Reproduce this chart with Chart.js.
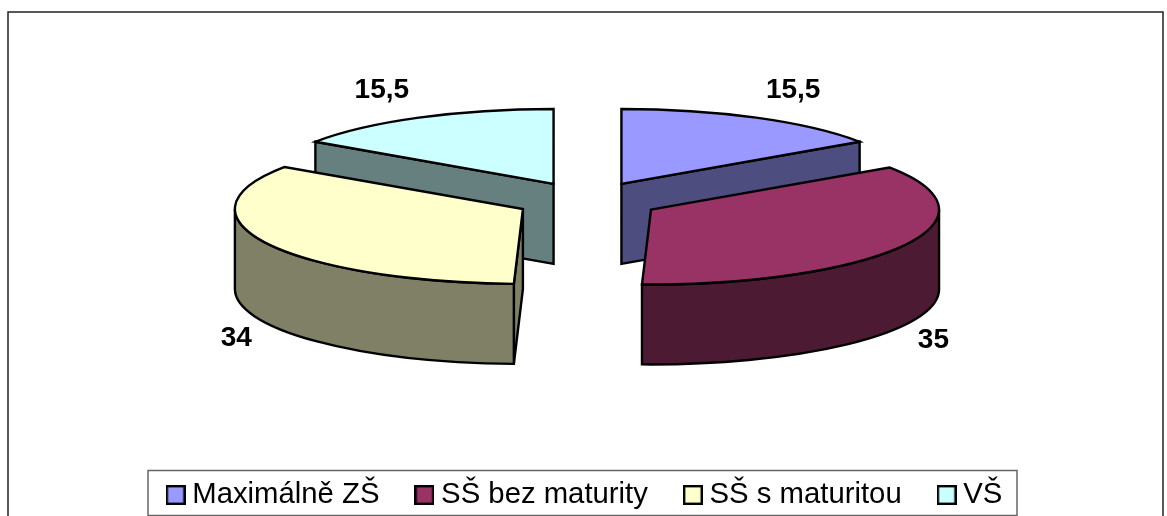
<!DOCTYPE html>
<html>
<head>
<meta charset="utf-8">
<style>html,body{margin:0;padding:0;background:#fff;overflow:hidden}canvas{display:block}</style>
<script src="https://cdn.jsdelivr.net/npm/chart.js@4"></script>
</head>
<body>
<canvas id="c" width="1167" height="516"></canvas>
<script>
const categories = ['Maximálně ZŠ', 'SŠ bez maturity', 'SŠ s maturitou', 'VŠ'];
const shares = [15.5, 35, 34, 15.5];
const topColors = ['#9999FF', '#993366', '#FFFFCC', '#CCFFFF'];
const sideColors = ['#4D4D80', '#4D1A33', '#808066', '#668080'];
const paintOrder = [0, 3, 1, 2];

const TILT = 0.26, DEPTH = 80, EXPLODE = 72.5, RADIUS = 288;
const FONT = '"Liberation Sans", Arial, sans-serif';

function swatch(color) {
  const s = document.createElement('canvas');
  s.width = 20; s.height = 20;
  const x = s.getContext('2d');
  x.fillStyle = color; x.fillRect(0, 0, 20, 20);
  x.strokeStyle = '#000'; x.lineWidth = 2.4; x.strokeRect(1.2, 1.2, 17.6, 17.6);
  return s;
}

const pie3d = {
  id: 'pie3d',
  afterLayout(chart) {
    const l = chart.legend;
    const h = l.bottom - l.top;
    l.top = 437.35; l.bottom = l.top + h;
    l.left += 0.5; l.right += 0.5;
    const area = chart.chartArea;
    area.top = 0; area.bottom = 401; area.height = 401;
  },
  beforeDraw(chart) {
    const c = chart.ctx;
    c.save();
    c.fillStyle = '#fff'; c.fillRect(0, 0, chart.width, chart.height);
    c.strokeStyle = '#222'; c.lineWidth = 1.5;
    c.strokeRect(8, 12, 1155, 520);
    c.strokeStyle = '#666'; c.lineWidth = 1.5;
    c.strokeRect(148, 470.5, 869, 45);
    c.restore();
  },
  beforeDatasetsDraw(chart) {
    const c = chart.ctx;
    const arcs = chart.getDatasetMeta(0).data;
    c.save();
    c.lineWidth = 2.4; c.lineJoin = 'miter'; c.strokeStyle = '#000';
    const shape = (a) => {
      const mid = (a.startAngle + a.endAngle) / 2;
      const cx = a.x + Math.cos(mid) * EXPLODE;
      const cy = a.y + Math.sin(mid) * EXPLODE * TILT;
      const rx = a.outerRadius, ry = rx * TILT;
      return {cx, cy, rx, ry, mid};
    };
    paintOrder.forEach(i => {
      const a = arcs[i], s = shape(a);
      const pt = (ang) => [s.cx + Math.cos(ang) * s.rx, s.cy + Math.sin(ang) * s.ry];
      c.fillStyle = sideColors[i];
      const faces = [];
      if (Math.cos(a.startAngle) < 0) faces.push(a.startAngle);
      if (Math.cos(a.endAngle) > 0) faces.push(a.endAngle);
      faces.forEach(ang => {
        const [px, py] = pt(ang);
        c.beginPath();
        c.moveTo(s.cx, s.cy); c.lineTo(px, py);
        c.lineTo(px, py + DEPTH); c.lineTo(s.cx, s.cy + DEPTH);
        c.closePath(); c.fill(); c.stroke();
      });
      const a0 = Math.max(a.startAngle, 0), a1 = Math.min(a.endAngle, Math.PI);
      if (a1 > a0) {
        c.beginPath();
        c.ellipse(s.cx, s.cy, s.rx, s.ry, 0, a0, a1);
        c.ellipse(s.cx, s.cy + DEPTH, s.rx, s.ry, 0, a1, a0, true);
        c.closePath(); c.fill(); c.stroke();
      }
      c.fillStyle = a.options.backgroundColor;
      c.beginPath();
      c.moveTo(s.cx, s.cy);
      c.ellipse(s.cx, s.cy, s.rx, s.ry, 0, a.startAngle, a.endAngle);
      c.closePath(); c.fill(); c.stroke();
    });
    c.fillStyle = '#000';
    c.font = 'bold 28px ' + FONT;
    c.textAlign = 'center'; c.textBaseline = 'middle';
    arcs.forEach((a, i) => {
      const s = shape(a);
      const front = Math.sin(s.mid) > 0;
      const px = s.cx + Math.cos(s.mid) * s.rx + Math.sign(Math.cos(s.mid)) * (front ? 30 : 37);
      const py = s.cy + Math.sin(s.mid) * s.ry + (front ? 95 : -27);
      c.fillText(String(shares[i]).replace('.', ','), px, py);
    });
    c.restore();
    return false;
  }
};

new Chart(document.getElementById('c'), {
  type: 'pie',
  data: {
    labels: categories,
    datasets: [{ data: shares, backgroundColor: topColors, borderColor: '#000', borderWidth: 0 }]
  },
  plugins: [pie3d],
  options: {
    responsive: false,
    animation: false,
    radius: RADIUS,
    layout: { padding: { left: 8, right: 0, top: 0, bottom: 0 } },
    plugins: {
      tooltip: { enabled: false },
      legend: {
        position: 'bottom',
        labels: {
          usePointStyle: true,
          pointStyleWidth: 4,
          padding: 43,
          color: '#000',
          font: { family: FONT, size: 29.3 },
          generateLabels(chart) {
            return Chart.overrides.doughnut.plugins.legend.labels.generateLabels(chart)
              .map((it, i) => Object.assign(it, { pointStyle: swatch(topColors[i]) }));
          }
        }
      }
    }
  }
});
</script>
</body>
</html>
